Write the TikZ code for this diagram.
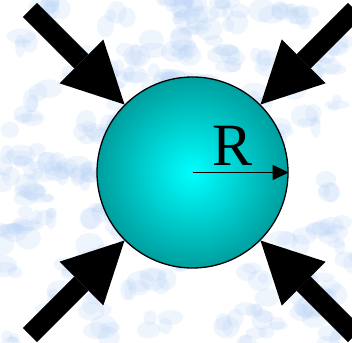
\documentclass[tikz,border=0pt]{standalone}
\usepackage{fontspec}
\setmainfont{Liberation Serif}
\usetikzlibrary{arrows.meta}
\definecolor{skyblue}{RGB}{185,212,248}
\definecolor{ballcyan}{RGB}{0,255,255}
\definecolor{ballteal}{RGB}{0,158,158}

\begin{document}
\begin{tikzpicture}[x=1pt, y=-1pt]
  \tikzset{
      sphere/.style={circle, draw=black, line width=1.3pt, minimum size=191pt, inner sep=0pt,
                     inner color=ballcyan, outer color=ballteal},
      push/.style={line width=20pt, -{Triangle[length=61pt, width=62pt, line width=0pt]}},
      radius/.style={line width=1.3pt, -{Triangle[length=16pt, width=15pt]}},
      blob/.style={fill=skyblue, opacity=0.22}
  }
  \useasboundingbox (0,0) rectangle (352,342);
  \clip (0,0) rectangle (352,342);
  \fill[white] (0,0) rectangle (352,342);

  % mottled sky
  \pgfmathsetseed{11}
  \foreach \i in {1,...,110}{
      \pgfmathsetmacro{\bx}{rnd*352}
      \pgfmathsetmacro{\by}{rnd*342}
      \foreach \j in {1,...,4}{
          \pgfmathsetmacro{\dx}{\bx+(rnd-0.5)*26}
          \pgfmathsetmacro{\dy}{\by+(rnd-0.5)*18}
          \pgfmathsetmacro{\ba}{5+rnd*10}
          \pgfmathsetmacro{\bb}{4+rnd*8}
          \fill[blob] (\dx,\dy) ellipse [x radius=\ba pt, y radius=\bb pt];
      }
  }

  \node[sphere] (ball) at (192.5,172.5) {};

  \coordinate (tl) at (30,10);
  \coordinate (tr) at (355,10);
  \coordinate (bl) at (30,335);
  \coordinate (br) at (355,335);

  \draw[push] (tl) -- (ball.135);
  \draw[push] (tr) -- (ball.45);
  \draw[push] (bl) -- (ball.225);
  \draw[push] (br) -- (ball.315);

  \draw[radius] (ball.center) -- (ball.east);
  \node[font=\fontsize{60}{60}\selectfont, inner sep=0pt] (rlab) at (233,146) {R};
\end{tikzpicture}
\end{document}
